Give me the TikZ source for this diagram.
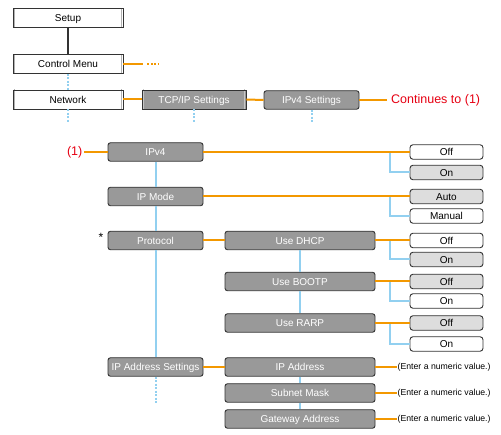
\documentclass[tikz,border=0pt]{standalone}
\usepackage{fontspec}
\setmainfont{Liberation Sans}
\definecolor{org}{HTML}{F39800}
\definecolor{sky}{HTML}{92D0F0}
\definecolor{boxgray}{HTML}{999999}
\definecolor{dark}{HTML}{333333}
\definecolor{optgray}{HTML}{DDDDDD}
\definecolor{redtxt}{HTML}{E60012}
\tikzset{
  lbl/.style={font=\fontsize{10}{12}\selectfont, text height=7.2pt, text depth=0pt, inner sep=0pt},
  topbox/.style={lbl, draw=dark, line width=0.9pt, fill=white, minimum width=110pt, minimum height=19pt,
    path picture={\draw[gray!60, line width=1.2pt] ([shift={(1.5,-1.5)}]path picture bounding box.north west) rectangle ([shift={(-1.5,1.5)}]path picture bounding box.south east);}},
  gbox/.style={lbl, draw=dark, line width=0.9pt, fill=boxgray, text=white, minimum width=104pt, minimum height=19pt,
    path picture={\draw[gray!45, line width=1.2pt] ([shift={(1.5,-1.5)}]path picture bounding box.north west) rectangle ([shift={(-1.5,1.5)}]path picture bounding box.south east);}},
  rbox/.style={lbl, draw=dark, line width=0.9pt, fill=boxgray, text=white, rounded corners=2.5pt, minimum width=95pt, minimum height=18.5pt},
  sbox/.style={rbox, minimum width=150pt},
  opt/.style={lbl, draw=dark, line width=0.9pt, fill=white, rounded corners=3pt, minimum width=73pt, minimum height=14.5pt},
  optg/.style={opt, fill=optgray},
  oline/.style={draw=org, line width=2pt},
  bline/.style={draw=sky, line width=2pt},
  bdot/.style={bline, dash pattern=on 2pt off 1.5pt},
  odot/.style={oline, dash pattern=on 2pt off 1.5pt},
  note/.style={font=\fontsize{8.7}{10}\selectfont, inner sep=0.5pt, anchor=west}
}
\begin{document}
\begin{tikzpicture}[x=1pt,y=-1pt]
\useasboundingbox (0,0) rectangle (501,435);
% top chain
\node[topbox] (setup) at (68,18) {Setup};
\node[topbox] (cm) at (68,64) {Control Menu};
\node[topbox] (net) at (68,99.5) {Network};
\node[gbox] (tcp) at (194,99.5) {TCP/IP Settings};
\node[rbox] (v4s) at (311.5,100) {IPv4 Settings};
\node[font=\fontsize{12.5}{14}\selectfont, text=redtxt, anchor=west, inner sep=0pt] (cont) at (391,100) {Continues to (1)};
\draw[dark, line width=2pt] (setup.south) -- (cm.north);
\draw[bdot] (cm.south) -- (net.north);
\draw[bdot] (net.south) -- ++(0,14);
\draw[bdot] (tcp.south) -- ++(0,14);
\draw[bdot] (v4s.south) -- ++(0,13);
\draw[oline] (cm.east) -- ++(20,0) coordinate (cmend);
\draw[odot] ([xshift=4pt]cmend) -- ++(11,0);
\draw[oline] (net.east) -- (tcp.west);
\draw[oline] (tcp.east) -- (v4s.west);
\draw[oline] (v4s.east) -- ([xshift=-4pt]cont.west);
% left column
\node[font=\fontsize{12.5}{14}\selectfont, text=redtxt, anchor=east, inner sep=1.5pt] (one) at (84,152) {(1)};
\node[rbox] (ipv4) at (155.5,152) {IPv4};
\node[rbox] (ipmode) at (155.5,196.5) {IP Mode};
\node[rbox] (proto) at (155.5,240.5) {Protocol};
\node[rbox] (ipas) at (155.5,367) {IP Address Settings};
\node[font=\fontsize{12}{14}\selectfont, inner sep=0pt] (star) at (101,237) {*};
\draw[oline] (one.east) -- (ipv4.west);
\draw[bline] (ipv4.south) -- (ipmode.north);
\draw[bline] (ipmode.south) -- (proto.north);
\draw[bline] (proto.south) -- (ipas.north);
\draw[bdot] (ipas.south) -- ++(0,27);
% middle column
\node[sbox] (dhcp) at (300,240.5) {Use DHCP};
\node[sbox] (bootp) at (300,281.5) {Use BOOTP};
\node[sbox] (rarp) at (300,323) {Use RARP};
\node[sbox] (ipaddr) at (300,367) {IP Address};
\node[sbox] (subnet) at (300,393) {Subnet Mask};
\node[sbox] (gw) at (300,419) {Gateway Address};
\draw[oline] (proto.east) -- (dhcp.west);
\draw[oline] (ipas.east) -- (ipaddr.west);
\draw[bline] (dhcp.south) -- (bootp.north);
\draw[bline] (bootp.south) -- (rarp.north);
\draw[bline] (ipaddr.south) -- (subnet.north);
\draw[bline] (subnet.south) -- (gw.north);
\node[note] (e1) at (397,367) {(Enter a numeric value.)};
\node[note] (e2) at (397,393) {(Enter a numeric value.)};
\node[note] (e3) at (397,419) {(Enter a numeric value.)};
\draw[oline] (ipaddr.east) -- (e1.west);
\draw[oline] (subnet.east) -- (e2.west);
\draw[oline] (gw.east) -- (e3.west);
% options
\node[opt]  (off1) at (446.5,152) {Off};
\node[optg] (on1)  at (446.5,172.5) {On};
\node[optg] (auto) at (446.5,196.5) {Auto};
\node[opt]  (man)  at (446.5,216) {Manual};
\node[opt]  (off2) at (446.5,240.5) {Off};
\node[optg] (on2)  at (446.5,259.5) {On};
\node[optg] (off3) at (446.5,281.5) {Off};
\node[opt]  (on3)  at (446.5,301) {On};
\node[optg] (off4) at (446.5,323) {Off};
\node[opt]  (on4)  at (446.5,344) {On};
\coordinate (b1) at (390,152);
\coordinate (b2) at (390,196.5);
\coordinate (b3) at (390,240.5);
\coordinate (b4) at (390,281.5);
\coordinate (b5) at (390,323);
\draw[bline] (b1) |- (on1.west);
\draw[bline] (b2) |- (man.west);
\draw[bline] (b3) |- (on2.west);
\draw[bline] (b4) |- (on3.west);
\draw[bline] (b5) |- (on4.west);
\draw[oline] (ipv4.east) -- (off1.west);
\draw[oline] (ipmode.east) -- (auto.west);
\draw[oline] (dhcp.east) -- (off2.west);
\draw[oline] (bootp.east) -- (off3.west);
\draw[oline] (rarp.east) -- (off4.west);
\end{tikzpicture}
\end{document}
